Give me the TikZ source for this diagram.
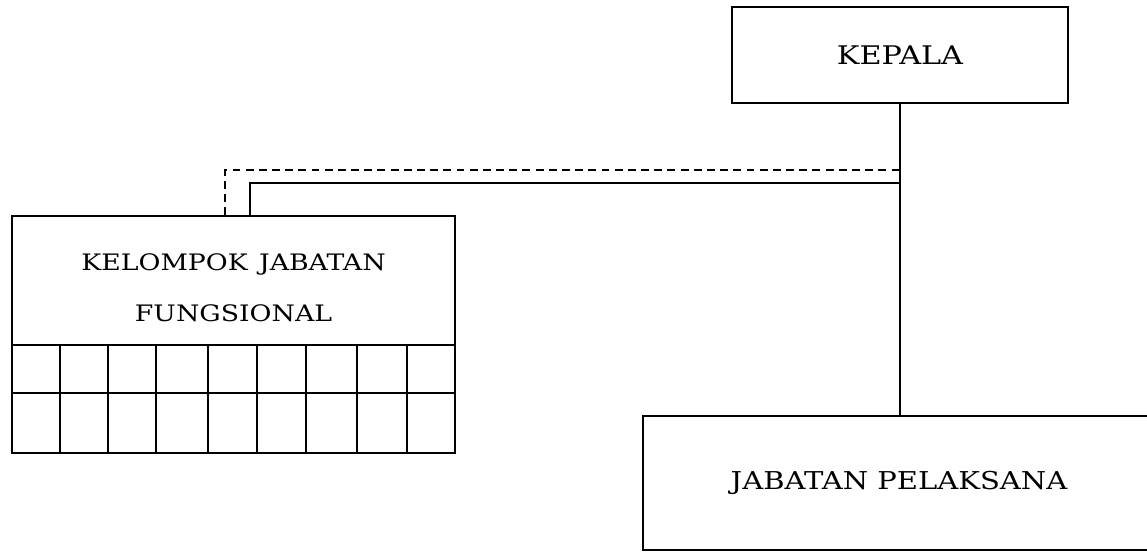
\documentclass[tikz,border=0pt]{standalone}
\usepackage{fontspec}
\setmainfont[FakeStretch=1.18]{DejaVu Serif}
\usetikzlibrary{positioning}

\begin{document}
\begin{tikzpicture}[
  line width=0.9pt,
  unitbox/.style={
    draw=black, fill=white, font=\fontsize{14.6}{29}\selectfont,
    align=center, inner sep=0pt, minimum width=#1
  },
  link/.style={draw=black, line width=0.9pt},
]

% Page frame
\useasboundingbox (0,0) rectangle (22.94,11.02);
\clip (0,0) rectangle (22.94,11.02);

% Head of the office
\node[unitbox=6.72cm, minimum height=1.92cm] (kepala) at (18.0,9.92) {KEPALA};

% Functional staff group with its cell grid
\node[unitbox=8.86cm, minimum height=2.58cm, font=\fontsize{12.9}{29}\selectfont]
  (kjf) at (4.67,5.41)
  {\raisebox{-0.1cm}[\height][\depth]{\begin{tabular}{@{}c@{}}KELOMPOK\hspace{0.12em} JABATAN\\FUNGSIONAL\end{tabular}}};
\draw (0.24,4.12) rectangle (9.10,1.96);
\draw (0.24,3.16) -- (9.10,3.16);
\foreach \x in {1.20, 2.16, 3.12, 4.16, 5.14, 6.12, 7.14, 8.14} {
  \draw (\x,4.12) -- (\x,1.96);
}

% Executive staff
\node[unitbox=10.24cm, minimum height=2.68cm, font=\fontsize{14.0}{29}\selectfont]
  (pelaksana) at (17.98,1.36) {JABATAN PELAKSANA};

% Lines of command and coordination
\coordinate (cmdjoin) at (18.0,7.36);
\coordinate (coordjoin) at (18.0,7.62);
\draw[link] (kepala.south) -- (kepala.south |- pelaksana.north);
\draw[link] ([xshift=0.33cm]kjf.north) |- (cmdjoin);
\draw[link, dash pattern=on 4.5pt off 3pt] ([xshift=-0.17cm]kjf.north) |- (coordjoin);

\end{tikzpicture}
\end{document}
